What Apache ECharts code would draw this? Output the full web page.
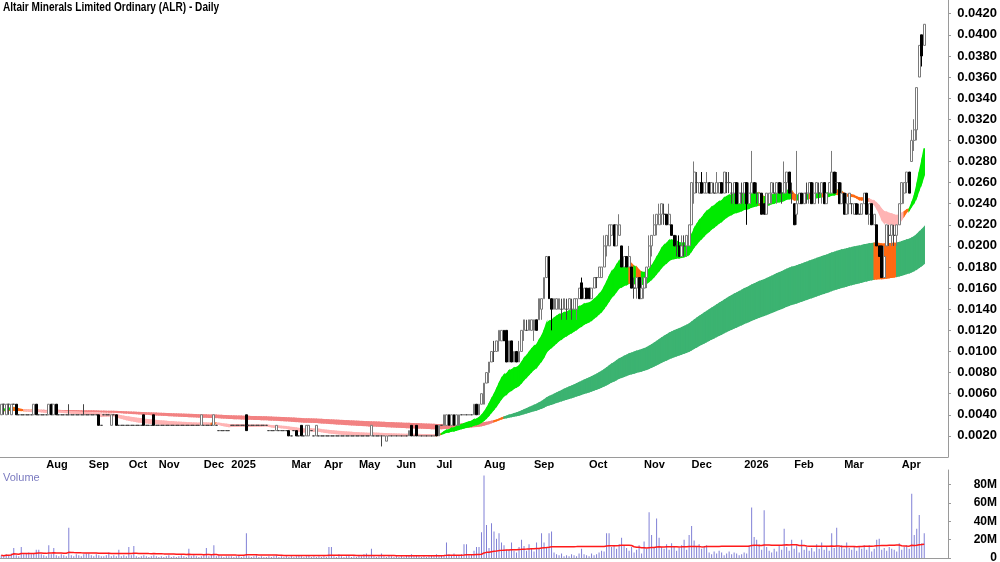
<!DOCTYPE html>
<html>
<head>
<meta charset="utf-8">
<title>ALR Daily</title>
<script src="https://cdn.jsdelivr.net/npm/echarts@6/dist/echarts.min.js"></script>
<style>
html, body { margin: 0; padding: 0; background: #fff; }
#chart { width: 1000px; height: 562px; }
</style>
</head>
<body>
<div id="chart"></div>
<script>
// month axis: label shown at the first traded bar of each month
var monthLabels = ['', 'Aug', 'Sep', 'Oct', 'Nov', 'Dec', '2025', '', 'Mar', 'Apr', 'May', 'Jun',
	'Jul', 'Aug', 'Sep', 'Oct', 'Nov', 'Dec', '2026', 'Feb', 'Mar', 'Apr'];
var monthBars = [18, 17, 16, 12, 18, 11, 12, 12, 13, 14, 15, 16, 19, 20, 22, 22, 19, 21, 20, 20, 23, 10];
var PAD_BARS = 9;

// daily bars, [open, high, low, close] in thousandths of a dollar
var bars2024Jul = [[4,5,4,5],[5,5,4,5],[4,5,4,5],[5,5,4,5],[4,5,4,5],[5,5,5,5],[5,5,4,4],[4,4,4,4],[4,4,4,4],[4,4,4,4],[4,4,4,4],[4,4,4,4],[4,4,4,4],[4,5,4,5],[5,5,4,4],[4,4,4,4],[4,4,4,4],[4,4,4,4]];
var bars2024Aug = [[4,4,4,4],[4,5,4,5],[5,5,4,4],[4,5,4,5],[5,5,4,4],[4,4,4,4],[4,4,4,4],[4,4,4,4],[4,4,4,4],[4,5,4,4],[4,4,4,4],[4,4,4,4],[4,4,4,4],[4,4,4,4],[4,4,4,4],[4,5,4,4],[4,4,4,4]];
var bars2024Sep = [[4,4,4,4],[4,4,4,4],[4,4,4,4],[4,4,4,4],[4,4,3,3],[3,3,3,3],[4,4,4,4],[4,4,4,4],[4,4,4,4],[3,4,3,4],[4,4,4,4],[4,4,3,3],[3,3,3,3],[3,3,3,3],[3,3,3,3],[3,3,3,3]];
var bars2024Oct = [[3,3,3,3],[3,3,3,3],[3,3,3,3],[3,3,3,3],[3,3,3,3],[3,3,3,3],[4,4,3,3],[3,3,3,3],[3,3,3,3],[3,3,3,3],[4,4,3,3],[3,3,3,3]];
var bars2024Nov = [[3,3,3,3],[3,3,3,3],[3,3,3,3],[3,3,3,3],[3,3,3,3],[3,3,3,3],[3,3,3,3],[3,3,3,3],[3,3,3,3],[3,3,3,3],[3,3,3,3],[3,3,3,3],[3,3,3,3],[3,3,3,3],[3,3,3,3],[3,3,3,3],[3,3,3,3],[3,4,3,4]];
var bars2024Dec = [[3,3,3,3],[3,3,3,3],[3,3,3,3],[3,3,3,3],[3,4,3,4],[3,3,3,3],[2.5,2.5,2.5,2.5],[2.5,2.5,2.5,2.5],[2.5,2.5,2.5,2.5],[2.5,2.5,2.5,2.5],[2.5,2.5,2.5,2.5]];
var bars2025Jan = [[3,3,3,3],[3,3,3,3],[3,3,3,3],[3,3,3,3],[3,3,3,3],[3,3,3,3],[4,4,2.5,2.5],[3,3,3,3],[3,3,3,3],[3,3,3,3],[3,3,3,3],[3,3,3,3]];
var bars2025Feb = [[3,3,3,3],[3,3,3,3],[3,3,3,3],[2.5,2.5,2.5,2.5],[2.5,2.5,2.5,2.5],[2.5,2.5,2.5,2.5],[2.5,3,2.5,3],[2.5,2.5,2.5,2.5],[2.5,2.5,2.5,2.5],[2.5,2.5,2.5,2.5],[2.5,2.5,2.5,2.5],[2.5,2.5,2,2]];
var bars2025Mar = [[2,2,2,2],[2.5,2.5,2.5,2.5],[2.5,2.5,2,2],[2,2,2,2],[3,3,2,2],[2,2,2,2],[2,3,2,3],[2,3,2,3],[2.5,2.5,2.5,2.5],[2,2,2,2],[2,3,2,3],[2,2,2,2],[2,2,2,2]];
var bars2025Apr = [[2,2,2,2],[2,2,2,2],[2,2,2,2],[2,2,2,2],[2,2,2,2],[2,2,2,2],[2,2,2,2],[2,2,2,2],[2,2,2,2],[2,2,2,2],[2,2,2,2],[2,2,2,2],[2,2,2,2],[2,2,2,2]];
var bars2025May = [[2,2,2,2],[2,2,2,2],[2,2,2,2],[2,2,2,2],[2,2,2,2],[2,3,2,3],[2,2,2,2],[2,2,2,2],[2,2,2,2],[2,2,1,2],[2,2,2,2],[1.5,2,1.5,2],[2,2,2,2],[2,2,2,2],[2,2,2,2]];
var bars2025Jun = [[2,2,2,2],[2,2,2,2],[2,2,2,2],[2,2,2,2],[2,2,2,2],[2,2.5,2,2.5],[3,3,2,2],[2,2,2,2],[3,3,2,2],[2,2,2,2],[2,2,2,2],[2,2,2,2],[2,2,2,2],[2,2,2,2],[2,2,2,2],[2,2,2,2]];
var bars2025Jul = [[3,3,2,2],[2,3,2,3],[3,3,3,3],[3,4,3,4],[3,4,3,4],[4,4,3,3],[3,4,3,4],[4,4,3,3],[3,4,3,4],[3,4,3,4],[4,4,4,4],[4,4,4,4],[4,4,4,4],[4,4,4,4],[4,4,4,4],[4,5,4,5],[5,5,4,4],[4,5,4,5],[5,6,5,6]];
var bars2025Aug = [[5,7,5,7],[7,8,7,8],[8,9,7,9],[9,10,9,10],[10,11,9,10],[10,11,10,11],[11,12,10,12],[11,12,11,12],[12,12,11,11],[12,12,9,9],[9,11,9,11],[11,11,9,9],[9,10,9,10],[10,10,9,9],[9,11,9,10],[10,12,10,12],[12,13,11,13],[12,13,12,12],[12,13,12,13],[12,13,12,13]];
var bars2025Sep = [[12,13,11,13],[13,13,12,12],[13,15,13,15],[14,15,13,15],[15,17,15,17],[17,19,17,19],[19,19,15,15],[15,15,12,14],[14,15,14,15],[14,15,14,15],[14,15,14,15],[14,15,13,14],[14,15,14,15],[14,15,13,14],[14,15,14,15],[14,15,13,14],[14,15,14,15],[14,15,13,15],[15,16,15,16],[16.5,17,15,15],[15,16,15,16],[16,16,15,15]];
var bars2025Oct = [[16,16,15,15],[15,16,15,16],[16,17,16,17],[17,17,16,17],[17,18,17,18],[17,18,17,18],[18,21,18,20],[20,21,19,21],[20,22,20,22],[21,22,21,22],[22,22,20,20],[20,22,20,22],[21,23,21,22],[20,20,18,18],[18,19,18,19],[19,19,18,18],[18,20,18,19],[18,18,16,16],[16,17,15,16],[16,17,15,17],[17,17,15,15],[15,17,15,16]];
var bars2025Nov = [[16,17,15,17],[17,18,16,18],[18,21,18,20],[20,21,19,21],[21,23,21,22],[22,23,21,23],[22,24,22,23],[23,24,22,24],[23,24,22,23],[23,23,22,22],[22,24,22,23],[22,22,21,21],[21,21,20,20],[20,21,19,20],[20,21,19,19],[19,21,19,20],[20,21,19,20],[20,21,19,21],[20,22,20,22]];
var bars2025Dec = [[22,26,22,26],[25,28,24,27],[26,27,25,26],[25,26,25,26],[26,27,25,25],[25,26,25,26],[25,27,25,26],[26,26,25,25],[25,26,25,26],[25,26,25,25],[25,27,25,26],[25,26,25,26],[26,26,25,25],[25,27,25,27],[26,27,25,26],[26,27,25,26],[25,26,24,25],[25,26,24,26],[26,26,24,24],[24,26,24,25],[25,26,24,25]];
var bars2026Jan = [[25,26,24,26],[26,26,22,24],[24,26,24,25],[25,29,25,26],[26,26,25,25],[25,26,24,25],[24,25,24,25],[25,25,23,23],[24,24,23,23],[23,25,23,25],[24,25,24,25],[25,26,24,26],[25,26,25,25],[25,26,24,26],[26,26,25,25],[25,26,24,25],[25,28,25,26],[26,27,25,27],[27,27,25,25],[25,26,24,25]];
var bars2026Feb = [[24,24,22,22],[23,29,22,24],[24,25,24,25],[25,25,24,24],[24,25,24,25],[25,26,24,25],[25,26,24,26],[26,26,24,24],[24,26,24,25],[25,26,25,26],[25,26,24,25],[25,26,24,26],[26,26,24,24],[24,25,24,25],[25,26,25,26],[25,29,25,27],[27,27,25,25],[26,27,25,26],[26,26,24,24],[24,26,24,25]];
var bars2026Mar = [[25,25,23,23],[23,25,23,24],[24,25,23,25],[24,24,23,24],[23,24,23,24],[24,24,23,23],[23,24,23,23],[23,24,23,24],[24,25,24,25],[25,25,23,23],[23,24,22,24],[24,24,22,22],[22,23,22,23],[22,22,20,20],[20,20,19,19],[20,20,17,17],[17,20,17,19],[20,22,20,22],[21,22,20,21],[21,22,20,22],[21,22,20,21],[21,22,20,22],[22,24,22,24]];
var bars2026Apr = [[24,26,24,26],[25,26,24,26],[26,27,25,27],[27,27,25,25],[28,31,28,30],[30,32,29,31],[31,35,30,35],[36,39,36,39],[40,40,37,38],[39,41,39,41]];

// daily volume, millions of shares
var vol2024Jul = [3,2,4,3,5,11,3,2,12,4,5,6,4,5,9,9,4,3];
var vol2024Aug = [2,14,4,11,3,2,4,3,2,33,3,2,4,3,2,4,5];
var vol2024Sep = [5,3,2,4,3,2,2,3,6,2,3,2,9,2,3,2];
var vol2024Oct = [12,3,13,2,1,2,3,2,1,2,3,2];
var vol2024Nov = [1,2,1,2,3,1,2,1,2,3,2,1,10,2,3,2,1,2];
var vol2024Dec = [3,11,2,3,14,2,3,2,1,2,2];
var vol2025Jan = [2,1,2,3,1,2,27,2,1,2,3,1];
var vol2025Feb = [2,1,1,2,1,2,3,1,2,1,2,1];
var vol2025Mar = [2,1,2,3,2,1,2,3,1,2,1,2,1];
var vol2025Apr = [2,1,12,12,2,1,4,2,1,2,3,1,2,1];
var vol2025May = [3,2,4,5,2,10,2,1,2,5,2,1,3,2,1];
var vol2025Jun = [2,1,2,1,3,3,4,2,3,2,1,2,1,2,3,2];
var vol2025Jul = [4,2,3,3,17,4,3,5,3,3,4,15,15,3,4,8,12,12,28];
var vol2025Aug = [90,36,11,38,29,21,27,17,14,9,9,17,8,6,12,20,13,8,15,10];
var vol2025Sep = [7,17,10,27,17,12,27,29,6,4,3,5,2,3,2,4,3,2,5,10,4,3];
var vol2025Oct = [2,5,3,4,6,8,7,27,27,12,14,10,15,22,13,11,8,12,6,9,14,5];
var vol2025Nov = [18,10,50,25,12,43,22,12,10,15,9,16,12,8,11,14,20,9,25];
var vol2025Dec = [35,19,12,15,10,13,14,6,4,7,5,8,6,3,5,7,4,6,5,3,4];
var vol2026Jan = [6,5,14,55,23,20,15,9,52,12,8,6,10,7,14,9,32,12,8,20];
var vol2026Feb = [10,14,6,20,9,12,8,11,7,15,10,17,9,13,8,27,11,33,12,14];
var vol2026Mar = [10,17,11,9,13,8,12,10,14,9,14,7,10,20,21,9,11,8,12,10,9,7,16];
var vol2026Apr = [9,12,14,10,70,25,32,47,16,27];

// indicator settings: two ribbons of exponential averages
var shortPeriods = [20, 23, 26, 30, 35, 40];
var longPeriods = [150, 170, 190, 205, 220, 240];
var VOL_MA = 60;

var MIL = 0.001;
var bars = [].concat(bars2024Jul, bars2024Aug, bars2024Sep, bars2024Oct, bars2024Nov, bars2024Dec,
	bars2025Jan, bars2025Feb, bars2025Mar, bars2025Apr, bars2025May, bars2025Jun, bars2025Jul,
	bars2025Aug, bars2025Sep, bars2025Oct, bars2025Nov, bars2025Dec, bars2026Jan, bars2026Feb,
	bars2026Mar, bars2026Apr);
var volumes = [].concat(vol2024Jul, vol2024Aug, vol2024Sep, vol2024Oct, vol2024Nov, vol2024Dec,
	vol2025Jan, vol2025Feb, vol2025Mar, vol2025Apr, vol2025May, vol2025Jun, vol2025Jul,
	vol2025Aug, vol2025Sep, vol2025Oct, vol2025Nov, vol2025Dec, vol2026Jan, vol2026Feb,
	vol2026Mar, vol2026Apr);
var n = bars.length;

var categories = [], labelAt = [];
for (var m = 0; m < monthBars.length; m++) {
	for (var k = 0; k < monthBars[m]; k++) {
		categories.push('m' + m + '-' + k);
		labelAt.push(k == 0 ? monthLabels[m] : '');
	}
}
for (var p = 0; p < PAD_BARS; p++) {
	categories.push('pad' + p);
	labelAt.push('');
}

var closes = bars.map(function (b) { return b[3] * MIL; });
var lows = bars.map(function (b) { return b[2] * MIL; });

function ema(src, period) {
	var a = 2 / (period + 1), out = [];
	// seed with the mean of the first bars, standing in for history before the chart
	var seed = 0;
	for (var i = 0; i < 20; i++) seed += src[i];
	var prev = seed / 20;
	for (var i = 0; i < src.length; i++) {
		prev = prev + a * (src[i] - prev);
		out.push(prev);
	}
	return out;
}

function sma(src, period) {
	var out = [];
	for (var i = 0; i < src.length; i++) {
		var from = Math.max(0, i - period + 1), s = 0;
		for (var j = from; j <= i; j++) s += src[j];
		out.push(s / (i - from + 1));
	}
	return out;
}

// colour state: 0 = fanned up (green), 1 = fanned down (pink), 2 = tangled or broken (orange)
// short ribbon: a close below the ribbon breaks it; long ribbon: a low inside it does
function ribbon(periods, isLong) {
	var lines = periods.map(function (p) { return ema(closes, p); });
	var lo = [], hi = [], state = [];
	for (var i = 0; i < n; i++) {
		var v = lines.map(function (l) { return l[i]; });
		var up = true, down = true;
		for (var k = 0; k < v.length - 1; k++) {
			if (!(v[k] > v[k + 1] + 1e-12)) up = false;
			if (!(v[k] < v[k + 1] - 1e-12)) down = false;
		}
		var mn = Math.min.apply(null, v), mx = Math.max.apply(null, v);
		var s = up ? 0 : (down ? 1 : 2);
		if (s == 0 && (isLong ? lows[i] < mx : closes[i] < mn)) s = 2;
		lo.push(mn); hi.push(mx); state.push(s);
	}
	var segs = [];
	for (var i = 0; i < n - 1; i++) {
		segs.push([i, lo[i], hi[i], lo[i + 1], hi[i + 1], state[i + 1]]);
	}
	return segs;
}

function bandRenderer(palette) {
	return function (params, api) {
		var i = api.value(0);
		var pts = [
			api.coord([i, api.value(1)]),
			api.coord([i + 1, api.value(3)]),
			api.coord([i + 1, api.value(4)]),
			api.coord([i, api.value(2)])
		];
		var c = palette[api.value(5)];
		return { type: 'polygon', shape: { points: pts }, style: { fill: c, stroke: c, lineWidth: 1.5 } };
	};
}

var candleData = bars.map(function (b) { return [b[0] * MIL, b[3] * MIL, b[2] * MIL, b[1] * MIL]; });
var volData = volumes.map(function (v) { return v * 1e6; });
var volMa = sma(volData, VOL_MA);

function showMonth(index) { return labelAt[index] !== ''; }

var FONT = 'Liberation Sans';
var chart = echarts.init(document.getElementById('chart'));
chart.setOption({
	animation: false,
	backgroundColor: '#ffffff',
	graphic: [
		{ type: 'text', x: 3, y: 2, scaleX: 0.84, silent: true,
			style: { text: 'Altair Minerals Limited Ordinary (ALR) - Daily', font: 'bold 12px "' + FONT + '"', fill: '#000' } },
		{ type: 'text', x: 3, y: 472, silent: true,
			style: { text: 'Volume', font: '11px "' + FONT + '"', fill: '#7b7bc0' } }
	],
	grid: [
		{ left: 0, right: 52, top: 0, height: 457, outerBoundsMode: 'none' },
		{ left: 0, right: 52, top: 470, height: 88, outerBoundsMode: 'none' }
	],
	xAxis: [
		{ type: 'category', gridIndex: 0, data: categories, boundaryGap: true,
			axisLine: { lineStyle: { color: '#9a9a9a' } },
			axisTick: { interval: showMonth, length: 3, lineStyle: { color: '#9a9a9a' } },
			axisLabel: { interval: showMonth, formatter: function (v, idx) { return labelAt[idx]; },
				align: 'left', margin: 2, fontSize: 11, fontWeight: 'bold', fontFamily: FONT, color: '#000' },
			splitLine: { show: false } },
		{ type: 'category', gridIndex: 1, data: categories, boundaryGap: true, position: 'top',
			axisLine: { lineStyle: { color: '#9a9a9a' } }, axisTick: { show: false },
			axisLabel: { show: false }, splitLine: { show: false } }
	],
	yAxis: [
		{ type: 'value', gridIndex: 0, position: 'right', min: 0, max: 0.0433, interval: 0.002,
			axisLine: { show: true, lineStyle: { color: '#9a9a9a' } },
			axisTick: { show: true, length: 3, lineStyle: { color: '#9a9a9a' } },
			axisLabel: { formatter: function (v) { return v.toFixed(4); }, showMinLabel: false, showMaxLabel: false,
				align: 'right', margin: 49, fontSize: 13, fontWeight: 'bold', fontFamily: FONT, color: '#000' },
			splitLine: { show: false } },
		{ type: 'value', gridIndex: 1, position: 'right', min: 0, max: 96e6, interval: 20e6,
			axisLine: { show: true, lineStyle: { color: '#9a9a9a' } },
			axisTick: { show: true, length: 3, lineStyle: { color: '#9a9a9a' } },
			axisLabel: { formatter: function (v) { return v == 0 ? '0' : (v / 1e6) + 'M'; }, showMaxLabel: false,
				align: 'right', margin: 49, fontSize: 12, fontWeight: 'bold', fontFamily: FONT, color: '#000' },
			splitLine: { show: false } }
	],
	series: [
		{ type: 'custom', name: 'long', xAxisIndex: 0, yAxisIndex: 0, silent: true, z: 1,
			renderItem: bandRenderer(['#3cb371', '#f28282', '#ff6a13']), data: ribbon(longPeriods, true) },
		{ type: 'custom', name: 'short', xAxisIndex: 0, yAxisIndex: 0, silent: true, z: 2,
			renderItem: bandRenderer(['#00ea00', '#ffb4b4', '#ff6a13']), data: ribbon(shortPeriods, false) },
		{ type: 'candlestick', xAxisIndex: 0, yAxisIndex: 0, z: 3, barWidth: 2.4, data: candleData,
			itemStyle: { color: '#ffffff', color0: '#000000', borderColor: '#7a7a7a', borderColor0: '#000000',
				borderColorDoji: '#444444', borderWidth: 1 } },
		{ type: 'bar', xAxisIndex: 1, yAxisIndex: 1, barWidth: 1, data: volData,
			itemStyle: { color: '#8080d6' } },
		{ type: 'line', xAxisIndex: 1, yAxisIndex: 1, data: volMa, symbol: 'none',
			lineStyle: { color: '#ff1a1a', width: 1.5 } }
	]
});
</script>
</body>
</html>
